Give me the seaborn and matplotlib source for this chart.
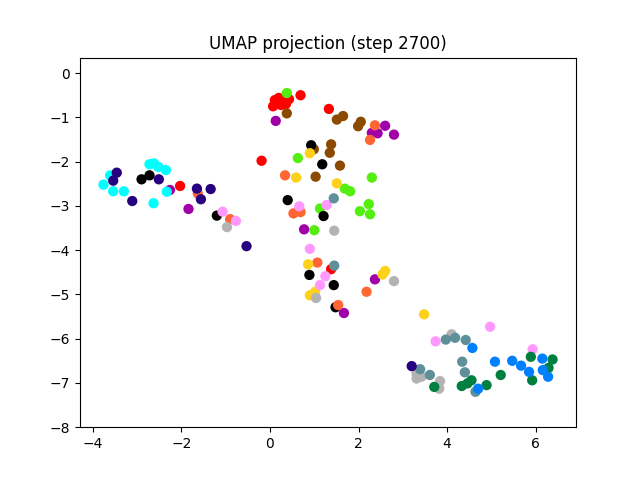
import matplotlib
matplotlib.use("Agg")
import pandas as pd
import seaborn as sns
from matplotlib import pyplot as plt

# points per cluster
red_x = [0.69, 0.11, 0.20, 0.32, 0.43, 0.07, 0.25, 0.36, 1.33, -0.19, 1.38, -2.03]
red_y = [-0.50, -0.61, -0.56, -0.63, -0.59, -0.75, -0.72, -0.70, -0.81, -1.98, -4.43, -2.55]
lime_x = [0.38, 0.63, 2.30, 1.69, 1.81, 1.13, 2.03, 2.23, 2.26, 1.00]
lime_y = [-0.45, -1.92, -2.36, -2.61, -2.67, -3.06, -3.12, -2.96, -3.19, -3.55]
brown_x = [0.38, 1.51, 1.65, 1.99, 2.05, 0.99, 1.38, 1.35, 1.58, 1.03]
brown_y = [-0.91, -1.05, -0.97, -1.20, -1.10, -1.72, -1.61, -1.80, -2.09, -2.34]
black_x = [0.93, 1.18, 0.40, 1.21, 0.89, 1.44, 1.48, -2.90, -2.72, -1.20]
black_y = [-1.63, -2.06, -2.87, -3.23, -4.56, -4.79, -5.29, -2.40, -2.31, -3.22]
purple_x = [0.13, 2.60, 2.30, 2.43, 2.80, 0.77, 1.67, 2.37, -2.26, -1.84]
purple_y = [-1.08, -1.19, -1.35, -1.36, -1.39, -3.53, -5.42, -4.66, -2.64, -3.07]
orange_x = [2.37, 2.26, 0.34, 0.53, 0.69, 1.07, 1.54, 2.18, -1.63, -0.90]
orange_y = [-1.18, -1.51, -2.31, -3.17, -3.14, -4.28, -5.24, -4.94, -2.72, -3.30]
gold_x = [0.90, 0.59, 1.51, 0.86, 0.90, 1.02, 2.54, 2.60, 3.48]
gold_y = [-1.81, -2.36, -2.49, -4.32, -5.02, -4.94, -4.55, -4.47, -5.45]
pink_x = [0.66, 1.28, 0.90, 1.25, 1.13, -1.07, -0.77, 4.97, 3.74, 5.93]
pink_y = [-3.01, -2.98, -3.97, -4.59, -4.79, -3.13, -3.34, -5.73, -6.06, -6.24]
gray_x = [1.45, 1.04, 2.80, -0.97, 4.10, 3.31, 3.42, 3.31, 3.84, 3.82]
gray_y = [-3.56, -5.08, -4.70, -3.48, -5.90, -6.79, -6.86, -6.90, -6.96, -7.13]
slate_x = [1.44, 1.45, 3.97, 4.18, 4.42, 3.39, 3.61, 4.34, 4.40, 4.64]
slate_y = [-2.83, -4.35, -6.02, -5.98, -6.03, -6.69, -6.82, -6.52, -6.76, -7.20]
cyan_x = [-3.76, -3.61, -3.54, -3.30, -2.72, -2.62, -2.52, -2.35, -2.63, -2.33]
cyan_y = [-2.52, -2.31, -2.67, -2.67, -2.06, -2.04, -2.12, -2.19, -2.94, -2.68]
indigo_x = [-3.46, -3.54, -3.11, -2.51, -1.65, -1.56, -1.34, -0.53, 3.20]
indigo_y = [-2.25, -2.43, -2.89, -2.40, -2.61, -2.85, -2.62, -3.91, -6.62]
dkgreen_x = [5.21, 5.89, 5.92, 6.38, 6.29, 3.71, 4.33, 4.46, 4.55, 4.89]
dkgreen_y = [-6.82, -6.41, -6.94, -6.47, -6.66, -7.09, -7.07, -7.01, -6.94, -7.05]
blue_x = [4.57, 5.08, 5.47, 5.67, 5.85, 6.15, 6.16, 6.28, 4.70]
blue_y = [-6.21, -6.52, -6.50, -6.61, -6.75, -6.45, -6.71, -6.86, -7.13]

clusters = {
    "#ff0000": (red_x, red_y),
    "#55ee11": (lime_x, lime_y),
    "#8b4a00": (brown_x, brown_y),
    "#000000": (black_x, black_y),
    "#a000a8": (purple_x, purple_y),
    "#ff6633": (orange_x, orange_y),
    "#ffd11a": (gold_x, gold_y),
    "#ff99ff": (pink_x, pink_y),
    "#b3b3b3": (gray_x, gray_y),
    "#5f8f99": (slate_x, slate_y),
    "#00ffff": (cyan_x, cyan_y),
    "#26007f": (indigo_x, indigo_y),
    "#008040": (dkgreen_x, dkgreen_y),
    "#0080ff": (blue_x, blue_y),
}

rows = []
for col, (xs, ys) in clusters.items():
    for x, y in zip(xs, ys):
        rows.append({"x": x, "y": y, "c": col})
df = pd.DataFrame(rows)

fig, ax = plt.subplots(figsize=(6.4, 4.8), dpi=100)
sns.scatterplot(data=df, x="x", y="y", hue="c",
                palette={c: c for c in clusters}, s=55, linewidth=0,
                legend=False, ax=ax)
ax.set_xlim(-4.29, 6.91)
ax.set_ylim(-8, 0.35)
ax.set_xlabel("")
ax.set_ylabel("")
ax.set_title("UMAP projection (step 2700)")

fig.savefig("out.png")
